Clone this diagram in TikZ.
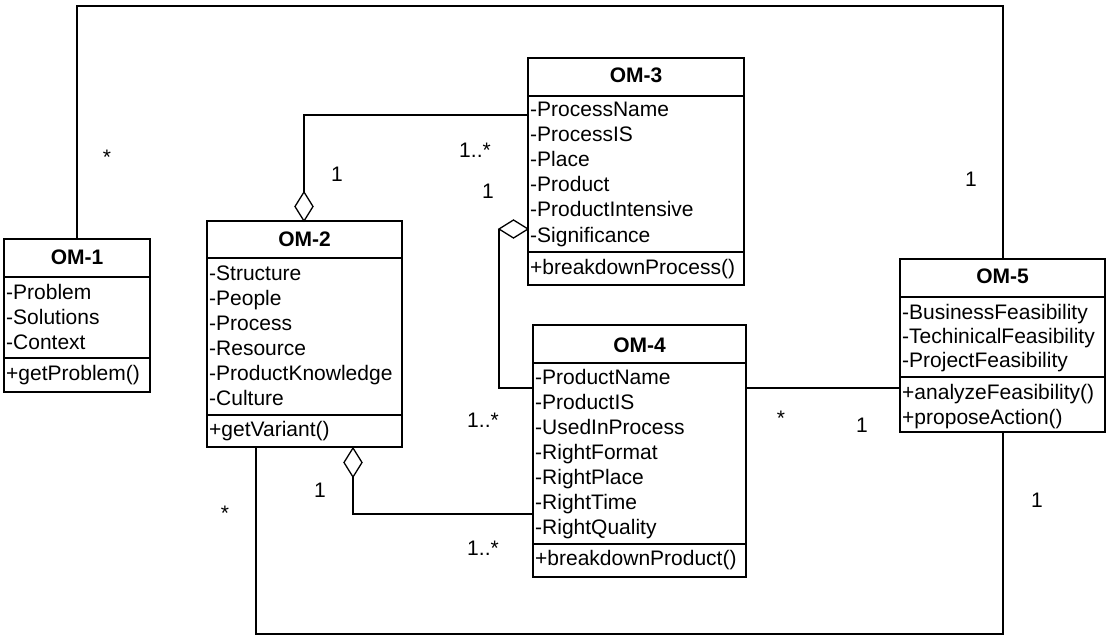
\documentclass[tikz,border=0pt]{standalone}
\usepackage{fontspec}
\setmainfont{Liberation Sans}
\usetikzlibrary{shapes.geometric}
\begin{document}
\begin{tikzpicture}[x=1pt,y=-1pt,
  font=\fontsize{21}{25}\selectfont,
  classbox/.style={draw, line width=1.8pt, anchor=north west, inner sep=0pt, outer sep=0pt},
  sep/.style={line width=1.8pt},
  ttl/.style={font=\fontsize{21}{25}\selectfont\bfseries, inner sep=0pt, anchor=base},
  attr/.style={inner sep=0pt, anchor=base west},
  conn/.style={line width=1.1pt},
  agg/.style={draw, shape=diamond, line width=1.3pt, inner sep=0pt, outer sep=0pt, fill=white},
  mult/.style={inner sep=0pt}]

\useasboundingbox (0,0) rectangle (1107,636);

% ---------- classes ----------
% OM-1
\node[classbox, minimum width=146pt, minimum height=153pt] (om1) at (4,239) {};
\draw[sep] (4,277) -- (150,277);
\draw[sep] (4,358) -- (150,358);
\node[ttl] (om1t) at (77,264) {OM-1};
\foreach \t [count=\i] in {-Problem,-Solutions,-Context}
  \node[attr] (om1a\i) at (6,{274+25*\i}) {\t};
\node[attr] (om1m1) at (6,380) {+getProblem()};

% OM-2
\node[classbox, minimum width=195pt, minimum height=226pt] (om2) at (207,221) {};
\draw[sep] (207,258) -- (402,258);
\draw[sep] (207,415) -- (402,415);
\node[ttl] (om2t) at (304.5,247) {OM-2};
\foreach \t [count=\i] in {-Structure,-People,-Process,-Resource,-ProductKnowledge,-Culture}
  \node[attr] (om2a\i) at (209,{255+25*\i}) {\t};
\node[attr] (om2m1) at (209,436) {+getVariant()};

% OM-3
\node[classbox, minimum width=216pt, minimum height=227pt] (om3) at (528,58) {};
\draw[sep] (528,96) -- (744,96);
\draw[sep] (528,252) -- (744,252);
\node[ttl] (om3t) at (636,83) {OM-3};
\foreach \t [count=\i] in {-ProcessName,-ProcessIS,-Place,-Product,-ProductIntensive,-Significance}
  \node[attr] (om3a\i) at (530,{92+25*\i}) {\t};
\node[attr] (om3m1) at (530,274) {+breakdownProcess()};

% OM-4
\node[classbox, minimum width=213pt, minimum height=252pt] (om4) at (533,325) {};
\draw[sep] (533,363) -- (746,363);
\draw[sep] (533,544) -- (746,544);
\node[ttl] (om4t) at (639.5,352) {OM-4};
\foreach \t [count=\i] in {-ProductName,-ProductIS,-UsedInProcess,-RightFormat,-RightPlace,-RightTime,-RightQuality}
  \node[attr] (om4a\i) at (535,{359+25*\i}) {\t};
\node[attr] (om4m1) at (535,565) {+breakdownProduct()};

% OM-5
\node[classbox, minimum width=205pt, minimum height=173pt] (om5) at (900,259) {};
\draw[sep] (900,297) -- (1105,297);
\draw[sep] (900,377) -- (1105,377);
\node[ttl] (om5t) at (1002.5,283) {OM-5};
\foreach \t [count=\i] in {-BusinessFeasibility,-TechinicalFeasibility,-ProjectFeasibility}
  \node[attr] (om5a\i) at (902,{295+24*\i}) {\t};
\node[attr] (om5m1) at (902,399) {+analyzeFeasibility()};
\node[attr] (om5m2) at (902,424) {+proposeAction()};

% ---------- aggregation diamonds ----------
\node[agg, minimum width=18pt, minimum height=29pt] (d2top) at (304,206.5) {};
\node[agg, minimum width=29pt, minimum height=18pt] (d3) at (513.5,229) {};
\node[agg, minimum width=18pt, minimum height=29pt] (d2bot) at (353,462.5) {};

% ---------- routing points ----------
\coordinate (topL) at (77,6);
\coordinate (topR) at (1003,6);
\coordinate (botL) at (256,634);
\coordinate (botR) at (1003,634);
\coordinate (y115) at (0,115);
\coordinate (y388) at (0,388);
\coordinate (y514) at (0,514);

% ---------- connectors ----------
\draw[conn] (om1.north -| topL) -- (topL) -- (topR) -- (om5.north -| topR);
\draw[conn] (d2top.north) |- (om3.west |- y115);
\draw[conn] (d3.west) |- (om4.west |- y388);
\draw[conn] (d2bot.south) |- (om4.west |- y514);
\draw[conn] (om4.east |- y388) -- (om5.west |- y388);
\draw[conn] (om2.south -| botL) -- (botL) -- (botR) -- (om5.south -| botR);

% ---------- multiplicities ----------
\node[mult] (m1) at (107,157) {*};
\node[mult] (m2) at (337,174) {1};
\node[mult] (m3) at (475,150) {1..*};
\node[mult] (m4) at (488,191) {1};
\node[mult] (m5) at (971,179) {1};
\node[mult] (m6) at (483,420) {1..*};
\node[mult] (m7) at (781,418) {*};
\node[mult] (m8) at (862,425) {1};
\node[mult] (m9) at (1037,500) {1};
\node[mult] (m10) at (225,513) {*};
\node[mult] (m11) at (320,490) {1};
\node[mult] (m12) at (483,548) {1..*};
\end{tikzpicture}
\end{document}
